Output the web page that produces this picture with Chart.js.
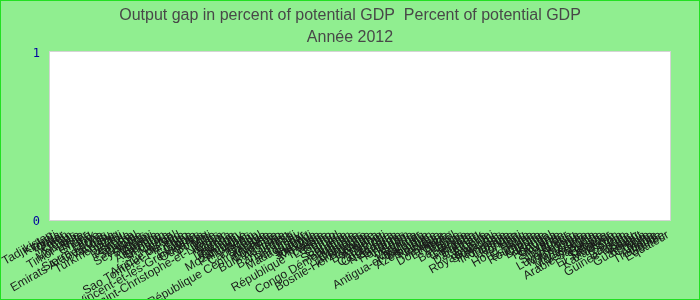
<!DOCTYPE html>
<html>
<head>
<meta charset="utf-8">
<script src="https://cdn.jsdelivr.net/npm/chart.js@4/dist/chart.umd.min.js"></script>
<style>
  html, body { margin: 0; padding: 0; background: #90ee90; }
  #wrap { width: 700px; height: 300px; position: relative; }
</style>
</head>
<body>
<div id="wrap"><canvas id="chart"></canvas></div>
<script>
// categories (order as on the reference axis)
const countries = [
    'Tadjikistan', 'Kiribati', 'Tonga', 'Qatar', 'Yémen', 'Oman', 'Laos', 'Mongolie', 'Timor-Leste', 'Niger',
    'Ghana', 'Irak', 'Libye', 'Sierra Leone', 'Emirats Arabes Unis', 'Vanuatu', 'Angola', 'Turkménistan', 'Chili', 'Pérou',
    'Rwanda', 'Panama', 'Sénégal', 'Zambie', 'Seychelles', 'Soudan', 'Malawi', 'Turquie', 'Argentine', 'Bhoutan',
    'Sri Lanka', 'Nigeria', 'Israël', 'Afrique du Sud', 'Sao Tomé-et-Principe', 'Togo', 'Chine', 'Ethiopie', 'Saint-Vincent-et-les-Grenadines', 'Ouganda',
    'Bolivie', 'Mali', 'Inde', 'Saint-Christophe-et-Niévès', 'Kenya', 'Maroc', 'Samoa', 'Tanzanie', 'Pakistan', 'Uruguay',
    'Mozambique', 'Philippines', 'Bénin', 'Cameroun', 'Népal', 'Gambie', 'République Centrafricaine', 'Malaisie', 'Colombie', 'Burkina Faso',
    'Australie', 'Japon', 'Bangladesh', 'Fidji', 'Paraguay', 'Madagascar', 'Liban', 'Burundi', 'Jordanie', 'Mexique',
    'Tunisie', 'République Tchèque', 'Lesotho', 'Congo', 'Tchad', 'Canada', 'Suriname', 'Salomon', 'Congo Démocratique', 'Maurice',
    'Comores', 'Allemagne', 'Bosnie-Herzégovine', 'Namibie', 'Botswana', 'Arménie', 'Djibouti', 'Cambodge', 'Costa Rica', 'Nicaragua',
    'Géorgie', 'Honduras', 'Vietnam', 'Suède', 'Autriche', 'Myanmar', 'Antigua-et-Barbuda', 'Belgique', 'Azerbaïdjan', 'Pologne',
    'Norvège', 'Suisse', 'Dominique', 'Erythrée', 'Brésil', 'France', 'Bahamas', 'Belize', 'Grenade', 'Finlande',
    'Bahreïn', 'Danemark', 'Algérie', 'Estonie', 'Royaume-Uni', 'Slovaquie', 'Pays-Bas', 'Indonésie', 'Lituanie', 'Lettonie',
    'Hongrie', 'Haïti', 'Hong Kong', 'Italie', 'Espagne', 'Roumanie', 'Croatie', 'Bulgarie', 'Irlande', 'Portugal',
    'Guyana', 'Slovénie', 'Islande', 'Singapour', 'Grèce', 'Luxembourg', 'Macédoine', 'Jamaïque', 'Corée', 'Monténégro',
    'Venezuela', 'Arabie Saoudite', 'Russie', 'Ukraine', 'El Salvador', 'Moldavie', 'Kazakhstan', 'Serbie', 'Iran', 'Barbade',
    'Guinée-Bissau', 'Gabon', 'Koweït', 'Guatemala', 'Chypre', 'Malte', 'Albanie', 'Thaïlande', 'Guinée', 'Equateur'
];

// no value is drawn for 2012 in the reference: every bar is empty
const gapValues = [
    null, null, null, null, null, null, null, null, null, null, null, null, null, null, null, null, null, null, null, null,
    null, null, null, null, null, null, null, null, null, null, null, null, null, null, null, null, null, null, null, null,
    null, null, null, null, null, null, null, null, null, null, null, null, null, null, null, null, null, null, null, null,
    null, null, null, null, null, null, null, null, null, null, null, null, null, null, null, null, null, null, null, null,
    null, null, null, null, null, null, null, null, null, null, null, null, null, null, null, null, null, null, null, null,
    null, null, null, null, null, null, null, null, null, null, null, null, null, null, null, null, null, null, null, null,
    null, null, null, null, null, null, null, null, null, null, null, null, null, null, null, null, null, null, null, null,
    null, null, null, null, null, null, null, null, null, null, null, null, null, null, null, null, null, null, null, null
];

const titleLines = ['Output gap in percent of potential GDP  Percent of potential GDP', 'Année 2012'];
const yMin = 0;
const yMax = 1;

// green page, white plot box with a grey edge, bright green frame
const frame = {
    id: 'frame',
    beforeDraw(chart) {
        const { ctx, chartArea: a, width, height } = chart;
        ctx.save();
        ctx.fillStyle = '#90ee90';
        ctx.fillRect(0, 0, width, height);
        ctx.fillStyle = '#ffffff';
        ctx.fillRect(a.left, a.top, a.right - a.left, a.bottom - a.top);
        ctx.strokeStyle = '#d4d4d4';
        ctx.lineWidth = 1;
        ctx.strokeRect(a.left - 0.5, a.top - 0.5, a.right - a.left + 1, a.bottom - a.top + 1);
        ctx.restore();
    },
    afterDraw(chart) {
        const { ctx, width, height } = chart;
        ctx.save();
        ctx.strokeStyle = '#22e022';
        ctx.lineWidth = 1;
        ctx.strokeRect(0.5, 0.5, width - 1, height - 1);
        ctx.restore();
    }
};

new Chart(document.getElementById('chart'), {
    type: 'bar',
    data: {
        labels: countries,
        datasets: [{
            label: 'Output gap',
            data: gapValues,
            backgroundColor: '#4f81bd'
        }]
    },
    options: {
        responsive: true,
        maintainAspectRatio: false,
        animation: false,
        layout: { padding: 0 },
        plugins: {
            legend: { display: false },
            tooltip: { enabled: false },
            title: {
                display: true,
                text: titleLines,
                color: '#484848',
                font: { family: 'Liberation Sans', size: 16, weight: 'normal', lineHeight: 1.375 },
                padding: { top: 5, bottom: 3 }
            }
        },
        scales: {
            x: {
                grid: { display: false, drawTicks: false },
                border: { display: false },
                ticks: {
                    autoSkip: false,
                    minRotation: 30,
                    maxRotation: 30,
                    padding: 8,
                    color: '#1a1a1a',
                    font: { family: 'Liberation Sans', size: 12 }
                },
                afterFit(scale) {
                    scale.height = 80;
                    scale.paddingLeft = 0;
                    scale.paddingRight = 30;
                }
            },
            y: {
                min: yMin,
                max: yMax,
                grid: { display: false, drawTicks: false },
                border: { display: false },
                ticks: {
                    stepSize: 1,
                    padding: 10,
                    labelOffset: 2,
                    color: '#0000a0',
                    font: { family: 'DejaVu Sans Mono', size: 12 }
                },
                afterFit(scale) {
                    scale.width = 50;
                    scale.paddingTop = 0;
                    scale.paddingBottom = 0;
                }
            }
        }
    },
    plugins: [frame]
});
</script>
</body>
</html>
